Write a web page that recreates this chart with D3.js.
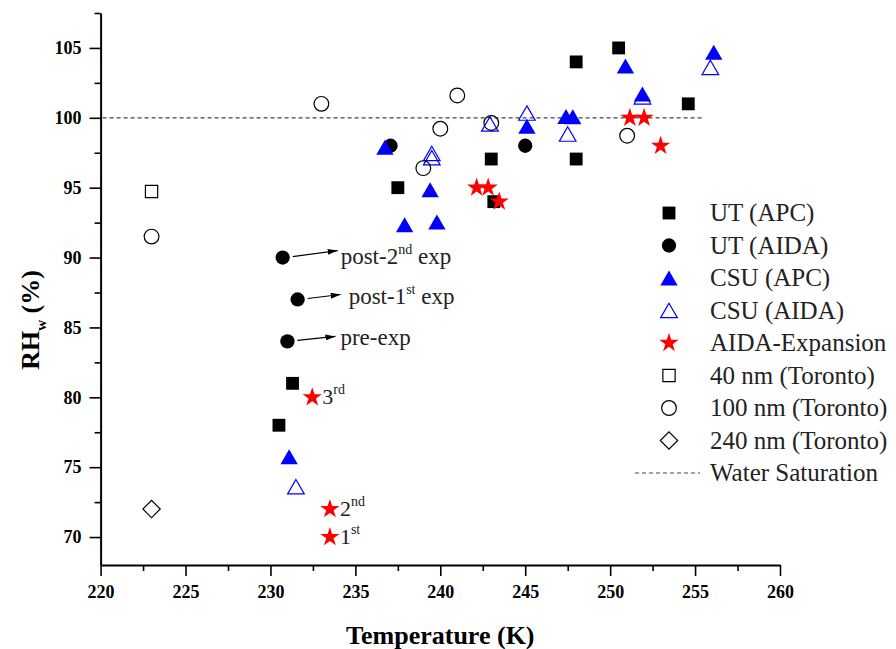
<!DOCTYPE html>
<html>
<head>
<meta charset="utf-8">
<script src="https://cdn.jsdelivr.net/npm/d3@7"></script>
<style>
    body { margin: 0; background: #fff; }
    text { font-family: "Liberation Serif", "Times New Roman", serif; }
</style>
</head>
<body>
<div id="chart"></div>
<script>
// [temperature K, RHw %]
const utApc = [[250.5, 105], [248, 104], [254.6, 101], [237.5, 95], [243, 97.05], [248, 97.05],
    [243.15, 94], [231.3, 81], [230.5, 78]];
const utAida = [[237.07, 98], [245, 98], [230.72, 90], [231.6, 87], [231, 84]];
const csuApc = [[236.74, 97.9], [239.4, 94.85], [237.9, 92.35], [239.8, 92.55], [245.1, 99.4],
    [247.4, 100.1], [247.8, 100.08], [250.9, 103.7], [251.9, 101.7], [256.1, 104.7], [231.1, 75.75]];
const csuAida = [[239.5, 97.45], [239.5, 97.15], [242.92, 99.56], [245.1, 100.34], [247.5, 98.84],
    [251.9, 101.5], [255.9, 103.6], [231.5, 73.6]];
const aidaExp = [[242.14, 95], [242.82, 95], [243.47, 94], [251.16, 100], [252, 100], [252.97, 98],
    [232.46, 80], [233.5, 72], [233.5, 70]];
const nm40 = [[223, 94.73]];
const nm100 = [[223, 91.5], [233, 101], [241, 101.6], [240, 99.22], [239, 96.4], [243, 99.63], [251, 98.72]];
const nm240 = [[223, 72]];

const xTicks = [220, 225, 230, 235, 240, 245, 250, 255, 260];
const yTicks = [70, 75, 80, 85, 90, 95, 100, 105];
const waterSat = 100;

const width = 896, height = 649;
const plot = {left: 100.6, right: 780, top: 13, bottom: 565};

const x = d3.scaleLinear().domain([220, 260]).range([plot.left, plot.right]);
const y = d3.scaleLinear().domain([68, 107.5]).range([plot.bottom, plot.top]);

// triangle centred on its bounding box (like the origin plot)
const boxTriangle = {
    draw(ctx, size) {
        const s = Math.sqrt(4 * size / Math.sqrt(3)), h = s * Math.sqrt(3) / 2;
        ctx.moveTo(0, -h / 2);
        ctx.lineTo(s / 2, h / 2);
        ctx.lineTo(-s / 2, h / 2);
        ctx.closePath();
    }
};

const svg = d3.select("#chart").append("svg")
    .attr("width", width)
    .attr("height", height);

svg.append("defs").append("marker")
    .attr("id", "arrow")
    .attr("viewBox", "0 0 10 6")
    .attr("refX", 10).attr("refY", 3)
    .attr("markerWidth", 10).attr("markerHeight", 6)
    .attr("markerUnits", "userSpaceOnUse")
    .attr("orient", "auto")
    .append("path").attr("d", "M0,0L10,3L0,6Z").attr("fill", "#000");

// axes
function styleAxis(g) {
    g.select(".domain").attr("stroke-width", 2);
    g.selectAll(".tick line").attr("stroke-width", 1.6);
    g.selectAll(".tick text")
        .attr("font-weight", "bold")
        .attr("font-size", 18)
        .attr("fill", "#000");
}

const xMinor = xTicks.slice(0, -1).map(v => v + 2.5);
const yMinor = yTicks.map(v => v + 2.5);

svg.append("g")
    .attr("transform", `translate(0,${plot.bottom})`)
    .call(d3.axisBottom(x).tickValues(xMinor).tickSize(6).tickSizeOuter(0).tickFormat(""))
    .call(g => g.select(".domain").remove())
    .call(styleAxis);
svg.append("g")
    .attr("transform", `translate(${plot.left},0)`)
    .call(d3.axisLeft(y).tickValues(yMinor).tickSize(6).tickSizeOuter(0).tickFormat(""))
    .call(g => g.select(".domain").remove())
    .call(styleAxis);

svg.append("g")
    .attr("transform", `translate(0,${plot.bottom})`)
    .call(d3.axisBottom(x).tickValues(xTicks).tickSize(11).tickSizeOuter(0).tickPadding(9))
    .call(styleAxis);
svg.append("g")
    .attr("transform", `translate(${plot.left},0)`)
    .call(d3.axisLeft(y).tickValues(yTicks).tickSize(11).tickSizeOuter(0).tickPadding(8))
    .call(styleAxis);

// water saturation
svg.append("line")
    .attr("x1", x(220) + 2).attr("x2", x(255.5))
    .attr("y1", y(waterSat)).attr("y2", y(waterSat))
    .attr("stroke", "#444").attr("stroke-width", 1.2)
    .attr("stroke-dasharray", "4,3");

// series
const series = [
    {name: "UT (APC)", data: utApc, type: d3.symbolSquare, size: 165, fill: "#000", stroke: "none"},
    {name: "UT (AIDA)", data: utAida, type: d3.symbolCircle, size: 160, fill: "#000", stroke: "none"},
    {name: "CSU (APC)", data: csuApc, type: boxTriangle, size: 130, fill: "#0000ff", stroke: "none"},
    {name: "CSU (AIDA)", data: csuAida, type: boxTriangle, size: 120, fill: "none", stroke: "#0000ff"},
    {name: "AIDA-Expansion", data: aidaExp, type: d3.symbolStar, size: 115, fill: "#ff0000", stroke: "none"},
    {name: "40 nm (Toronto)", data: nm40, type: d3.symbolSquare, size: 150, fill: "none", stroke: "#000"},
    {name: "100 nm (Toronto)", data: nm100, type: d3.symbolCircle, size: 170, fill: "none", stroke: "#000"},
    {name: "240 nm (Toronto)", data: nm240, type: d3.symbolSquare, size: 150, fill: "none", stroke: "#000", rotate: 45}
];

series.forEach(s => {
    svg.append("g")
        .selectAll("path")
        .data(s.data)
        .enter().append("path")
        .attr("d", d3.symbol().type(s.type).size(s.size))
        .attr("transform", d => `translate(${x(d[0])},${y(d[1])})` + (s.rotate ? ` rotate(${s.rotate})` : ""))
        .attr("fill", s.fill)
        .attr("stroke", s.stroke)
        .attr("stroke-width", 1.2);
});

// annotations on UT (AIDA) points
const notes = [
    {pt: utAida[2], main: "post-2", sup: "nd", tail: " exp", tx: 58, ty: 6, ax: 55, ay: -7},
    {pt: utAida[3], main: "post-1", sup: "st", tail: " exp", tx: 51, ty: 5, ax: 43, ay: -5},
    {pt: utAida[4], main: "pre-exp", sup: "", tail: "", tx: 53, ty: 4, ax: 48, ay: -5}
];
notes.forEach(n => {
    const px = x(n.pt[0]), py = y(n.pt[1]);
    svg.append("line")
        .attr("x1", px + 10).attr("y1", py - 1)
        .attr("x2", px + n.ax).attr("y2", py + n.ay)
        .attr("stroke", "#000").attr("stroke-width", 1.2)
        .attr("marker-end", "url(#arrow)");
    const t = svg.append("text")
        .attr("x", px + n.tx).attr("y", py + n.ty)
        .attr("font-size", 23).attr("fill", "#222");
    t.append("tspan").text(n.main);
    if (n.sup) t.append("tspan").attr("font-size", 14).attr("dy", -10).text(n.sup);
    if (n.tail) t.append("tspan").attr("dy", 10).text(n.tail);
});

// expansion order labels
const expNotes = [
    {pt: aidaExp[6], main: "3", sup: "rd"},
    {pt: aidaExp[7], main: "2", sup: "nd"},
    {pt: aidaExp[8], main: "1", sup: "st"}
];
expNotes.forEach(n => {
    const t = svg.append("text")
        .attr("x", x(n.pt[0]) + 10).attr("y", y(n.pt[1]) + 7)
        .attr("font-size", 22).attr("fill", "#222");
    t.append("tspan").text(n.main);
    t.append("tspan").attr("font-size", 14).attr("dy", -10).text(n.sup);
});

// legend
const legend = svg.append("g").attr("transform", "translate(669,213)");
const rowH = 32.5;
series.forEach((s, i) => {
    const g = legend.append("g").attr("transform", `translate(0,${i * rowH})`);
    g.append("path")
        .attr("d", d3.symbol().type(s.type).size(s.size))
        .attr("transform", s.rotate ? `rotate(${s.rotate})` : null)
        .attr("fill", s.fill)
        .attr("stroke", s.stroke)
        .attr("stroke-width", 1.2);
    g.append("text")
        .attr("x", 41).attr("y", 8)
        .attr("font-size", 25).attr("fill", "#222")
        .text(s.name);
});
const wg = legend.append("g").attr("transform", `translate(0,${series.length * rowH})`);
wg.append("line")
    .attr("x1", -34).attr("x2", 31)
    .attr("stroke", "#444").attr("stroke-width", 1.2)
    .attr("stroke-dasharray", "4,3");
wg.append("text")
    .attr("x", 41).attr("y", 8)
    .attr("font-size", 25).attr("fill", "#222")
    .text("Water Saturation");

// axis titles
svg.append("text")
    .attr("x", (plot.left + plot.right) / 2).attr("y", 644)
    .attr("text-anchor", "middle")
    .attr("font-weight", "bold").attr("font-size", 26)
    .text("Temperature (K)");

const yt = svg.append("text")
    .attr("transform", "translate(39,320) rotate(-90)")
    .attr("text-anchor", "middle")
    .attr("font-weight", "bold").attr("font-size", 26);
yt.append("tspan").text("RH");
yt.append("tspan").attr("font-size", 15).attr("dy", 7).text("w");
yt.append("tspan").attr("dy", -7).text(" (%)");
</script>
</body>
</html>
